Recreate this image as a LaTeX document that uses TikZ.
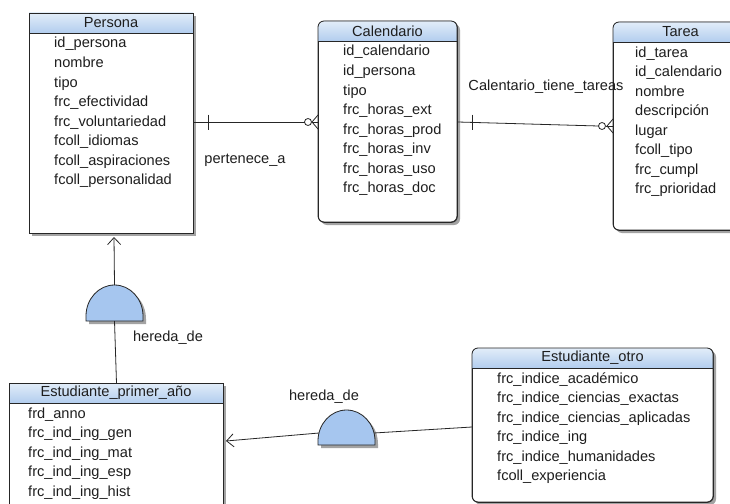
\documentclass[tikz,border=0pt]{standalone}
\usepackage{fontspec}
\setmainfont{Liberation Sans}
\usetikzlibrary{arrows.meta,calc}
\definecolor{hdtop}{HTML}{E2EDF9}
\definecolor{hdbot}{HTML}{B2CDEE}
\definecolor{inhfill}{HTML}{A6C6EF}
\definecolor{shadowc}{HTML}{A3A3A3}
\definecolor{txt}{HTML}{1E1E1E}
\tikzset{
  boxline/.style={draw=black!85, line width=0.8pt},
  attr/.style={anchor=base west, inner sep=0pt, text=txt, font=\fontsize{14.6}{15}\selectfont},
  ttl/.style={inner sep=0pt, text=txt, font=\fontsize{14.6}{15}\selectfont},
  conn/.style={draw=black!85, line width=0.8pt},
  lbl/.style={inner sep=0pt, text=txt, font=\fontsize{14.6}{15}\selectfont},
  inh/.style={draw=black!85, line width=0.8pt, fill=inhfill},
  opentip/.style={-{Straight Barb[length=7pt,width=13pt,line width=0.8pt]}},
}
% #1 name, #2 x, #3 y, #4 w, #5 h, #6 corner radius, #7 title, #8 attr dx, #9 attributes
\newcommand\myentity[9]{%
  \fill[shadowc, rounded corners=#6] (#2+3,#3+3) rectangle ++(#4,#5);
  \node[boxline, fill=white, rounded corners=#6, minimum width=#4pt, minimum height=#5pt,
        anchor=north west, inner sep=0pt] (#1) at (#2,#3) {};
  \begin{scope}
    \clip[rounded corners=#6] (#2,#3) rectangle ++(#4,#5);
    \fill[top color=hdtop, bottom color=hdbot] (#2,#3) rectangle ++(#4,20);
  \end{scope}
  \draw[boxline, rounded corners=#6] (#2,#3) rectangle ++(#4,#5);
  \draw[boxline] (#2,#3+20) -- ++(#4,0);
  \node[ttl] (#1-title) at (#2+#4/2,#3+10) {#7};
  \foreach \a [count=\i] in {#9}
    \node[attr] at (#2+#8,#3+35+\i*19.5-19.5) {\a};
}
\begin{document}
\begin{tikzpicture}[x=1pt,y=-1pt]
\useasboundingbox (0,0) rectangle (730,503);
\clip (0,0) rectangle (730,503);
\fill[white] (0,0) rectangle (730,503);

\myentity{persona}{29}{13}{164}{220}{0pt}{Persona}{25}{id\_persona,nombre,tipo,frc\_efectividad,frc\_voluntariedad,fcoll\_idiomas,fcoll\_aspiraciones,fcoll\_personalidad}
\myentity{calendario}{318}{21}{139}{201}{6pt}{Calendario}{25}{id\_calendario,id\_persona,tipo,frc\_horas\_ext,frc\_horas\_prod,frc\_horas\_inv,frc\_horas\_uso,frc\_horas\_doc}
\myentity{tarea}{613}{22}{135}{208}{6pt}{Tarea}{22}{id\_tarea,id\_calendario,nombre,descripción,lugar,fcoll\_tipo,frc\_cumpl,frc\_prioridad}
\myentity{primer}{9}{383}{214}{125}{0pt}{Estudiante\_primer\_año}{19}{frd\_anno,frc\_ind\_ing\_gen,frc\_ind\_ing\_mat,frc\_ind\_ing\_esp,frc\_ind\_ing\_hist}
\myentity{otro}{472}{348}{241}{154}{6pt}{Estudiante\_otro}{25}{frc\_indice\_académico,frc\_indice\_ciencias\_exactas,frc\_indice\_ciencias\_aplicadas,frc\_indice\_ing,frc\_indice\_humanidades,fcoll\_experiencia}

% Persona -- Calendario (one to many, optional)
\coordinate (pc1) at (persona.east |- 0,122);
\coordinate (pc2) at (calendario.west |- 0,122);
\coordinate (pcc) at ($(pc2)+(-10,0)$);
\draw[conn] (pc1) -- ($(pcc)+(-3.5,0)$);
\draw[conn] ($(pc1)+(15,-7.5)$) -- ($(pc1)+(15,7.5)$);
\draw[conn] (pcc) circle (3.5);
\draw[conn] ($(pcc)+(3.5,0)$) -- (pc2);
\draw[conn] ($(pc2)+(-6,0)$) -- ($(pc2)+(0,-7)$);
\draw[conn] ($(pc2)+(-6,0)$) -- ($(pc2)+(0,7)$);
\node[lbl] (lb1) at (245,160) {pertenece\_a};

% Calendario -- Tarea
\coordinate (ct1) at (calendario.east |- 0,122);
\coordinate (ct2) at (tarea.west |- 0,126);
\coordinate (ctc) at ($(ct2)+(-11,0)$);
\draw[conn] (ct1) -- ($(ctc)+(-3.5,0)$);
\draw[conn] ($(ct1)+(15,-7.5)$) -- ($(ct1)+(15,7.5)$);
\draw[conn] (ctc) circle (3.5);
\draw[conn] ($(ctc)+(3.5,0)$) -- (ct2);
\draw[conn] ($(ct2)+(-6,0)$) -- ($(ct2)+(0,-7)$);
\draw[conn] ($(ct2)+(-6,0)$) -- ($(ct2)+(0,7)$);
\node[lbl] (lb2) at (546,87) {Calentario\_tiene\_tareas};

% Inheritance 1
\fill[shadowc] (89,324) -- (89,319) arc[start angle=180, end angle=360, x radius=28.5, y radius=31] -- (146,324) -- cycle;
\draw[inh] (86,321) -- (86,316) arc[start angle=180, end angle=360, x radius=28.5, y radius=31] -- (143,321) -- cycle;
\coordinate (i1top) at (114.5,285);
\coordinate (i1bot) at (114.5,321);
\coordinate (persbot) at (114,237);
\coordinate (primtop) at (116.5,383);
\draw[conn, opentip] (i1top) -- (persbot);
\draw[conn] (i1bot) -- (primtop);
\node[lbl] (lb3) at (168,338) {hereda\_de};

% Inheritance 2
\fill[shadowc] (321,448) -- (321,444) arc[start angle=180, end angle=360, x radius=28.5, y radius=31] -- (378,448) -- cycle;
\draw[inh] (318,445) -- (318,441) arc[start angle=180, end angle=360, x radius=28.5, y radius=31] -- (375,445) -- cycle;
\coordinate (i2l) at (319,433);
\coordinate (i2r) at (374,433);
\coordinate (primr) at (226,441);
\coordinate (otrol) at (otro.west |- 0,427);
\draw[conn, opentip] (i2l) -- (primr);
\draw[conn] (i2r) -- (otrol);
\node[lbl] (lb4) at (324,397) {hereda\_de};
\end{tikzpicture}
\end{document}
